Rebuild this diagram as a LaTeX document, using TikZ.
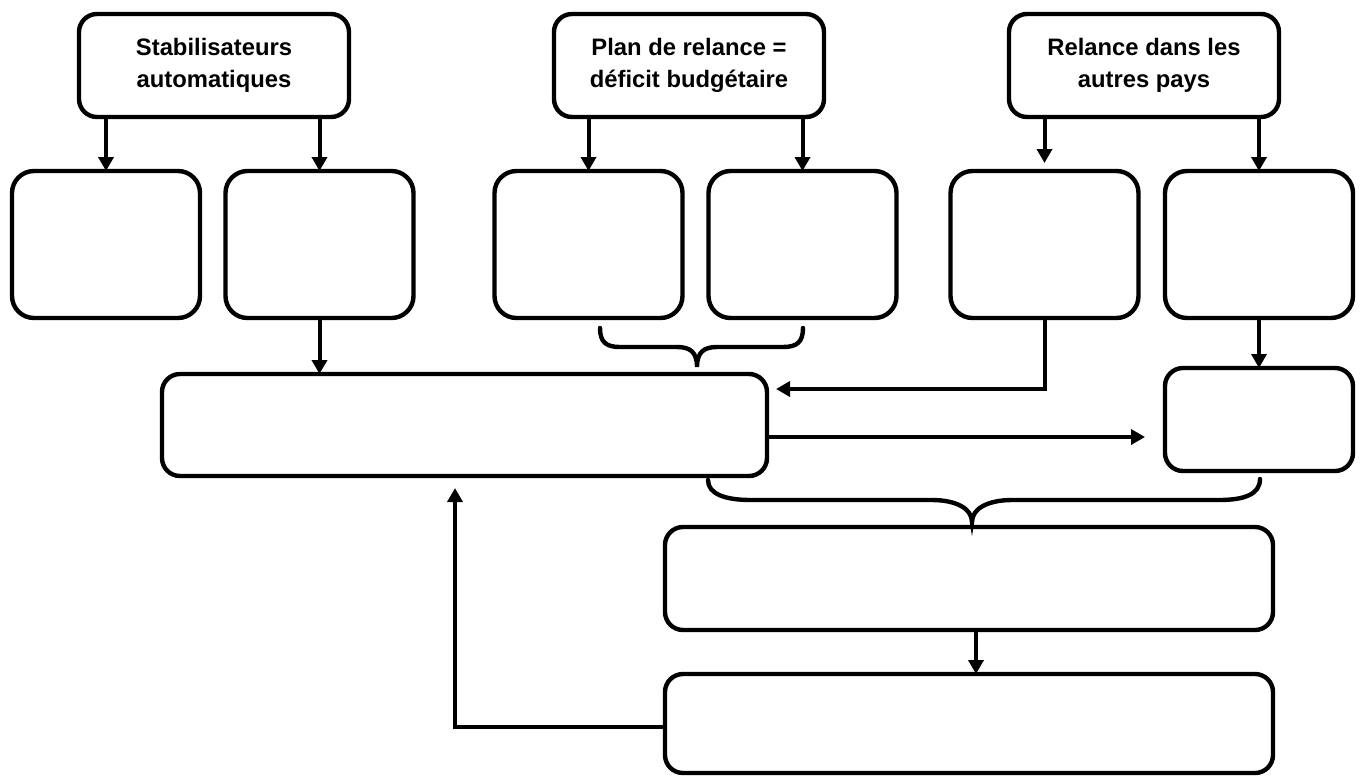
\documentclass[tikz,border=0pt]{standalone}
\usepackage{fontspec}
\setmainfont{Liberation Sans}
\usetikzlibrary{arrows.meta,calc}
\begin{document}
\begin{tikzpicture}[x=0.5pt,y=-0.5pt,
  box/.style={draw,line width=2.2pt,rounded corners=9pt,inner sep=0pt,outer sep=0pt},
  topbox/.style={box,minimum width=135pt,minimum height=51.5pt,align=center,
    font=\fontsize{11.9}{16}\selectfont\bfseries},
  midbox/.style={box,rounded corners=11pt,minimum width=94pt,minimum height=73.5pt},
  arr/.style={line width=2pt,-{Triangle[length=7pt,width=7.5pt]}},
  bracepath/.style={line width=2.2pt,line cap=round}]
\useasboundingbox (0,0) rectangle (1361,778);
% top boxes
\node[topbox] (A) at (214,65.5) {Stabilisateurs\\automatiques};
\node[topbox] (B) at (689,65.5) {Plan de relance =\\déficit budgétaire};
\node[topbox] (C) at (1144,65.5) {Relance dans les\\autres pays};
% second row
\node[midbox] (A1) at (106,244.5) {};
\node[midbox] (A2) at (319.5,244.5) {};
\node[midbox] (B1) at (588.5,244.5) {};
\node[midbox] (B2) at (802.5,244.5) {};
\node[midbox] (C1) at (1044.5,244.5) {};
\node[midbox] (C2) at (1259,244.5) {};
% lower boxes
\node[box,minimum width=302.5pt,minimum height=51pt] (D) at (464.5,425) {};
\node[box,minimum width=94pt,minimum height=51.5pt] (E) at (1259,419.5) {};
\node[box,minimum width=304pt,minimum height=51.5pt] (F) at (969,578.5) {};
\node[box,minimum width=304pt,minimum height=49.5pt] (G) at (969,723.5) {};
% arrows from top boxes
\draw[arr] (A.south -| A1.north) -- (A1.north);
\draw[arr] (A.south -| A2.north) -- (A2.north);
\draw[arr] (B.south -| B1.north) -- (B1.north);
\draw[arr] (B.south -| B2.north) -- (B2.north);
\draw[arr] (C.south -| C1.north) -- ([yshift=4pt]C1.north);
\draw[arr] (C.south -| C2.north) -- (C2.north);
% to middle boxes
\draw[arr] (A2.south) -- (A2.south |- D.north);
\draw[arr] (C1.south) |- ($(D.east)+(4.5pt,18pt)$);
\draw[arr] ($(D.east)+(0,-6pt)$) -- ($(E.west |- D.east)+(-10pt,-6pt)$);
\draw[arr] (C2.south) -- (E.north);
\draw[arr] ($(F.south)+(3.5pt,0)$) -- ($(G.north)+(3.5pt,0)$);
\draw[arr] ($(G.west)+(0,-1.75pt)$) -| ($(D.south)+(-4.75pt,-6pt)$);
% braces
\draw[bracepath] (600,328) .. controls (600,342) and (606,347) .. (620,347) -- (677,347)
  .. controls (690,347) and (697,352) .. (697,367)
  .. controls (697,352) and (704,347) .. (717,347) -- (783,347)
  .. controls (797,347) and (803,342) .. (803,328);
\draw[bracepath] (708,480) .. controls (708,494) and (725,500) .. (751,500) -- (932,500)
  .. controls (955,500) and (972,508) .. (972,522)
  .. controls (972,508) and (989,500) .. (1012,500) -- (1219,500)
  .. controls (1245,500) and (1260,494) .. (1260,479);
\end{tikzpicture}
\end{document}
